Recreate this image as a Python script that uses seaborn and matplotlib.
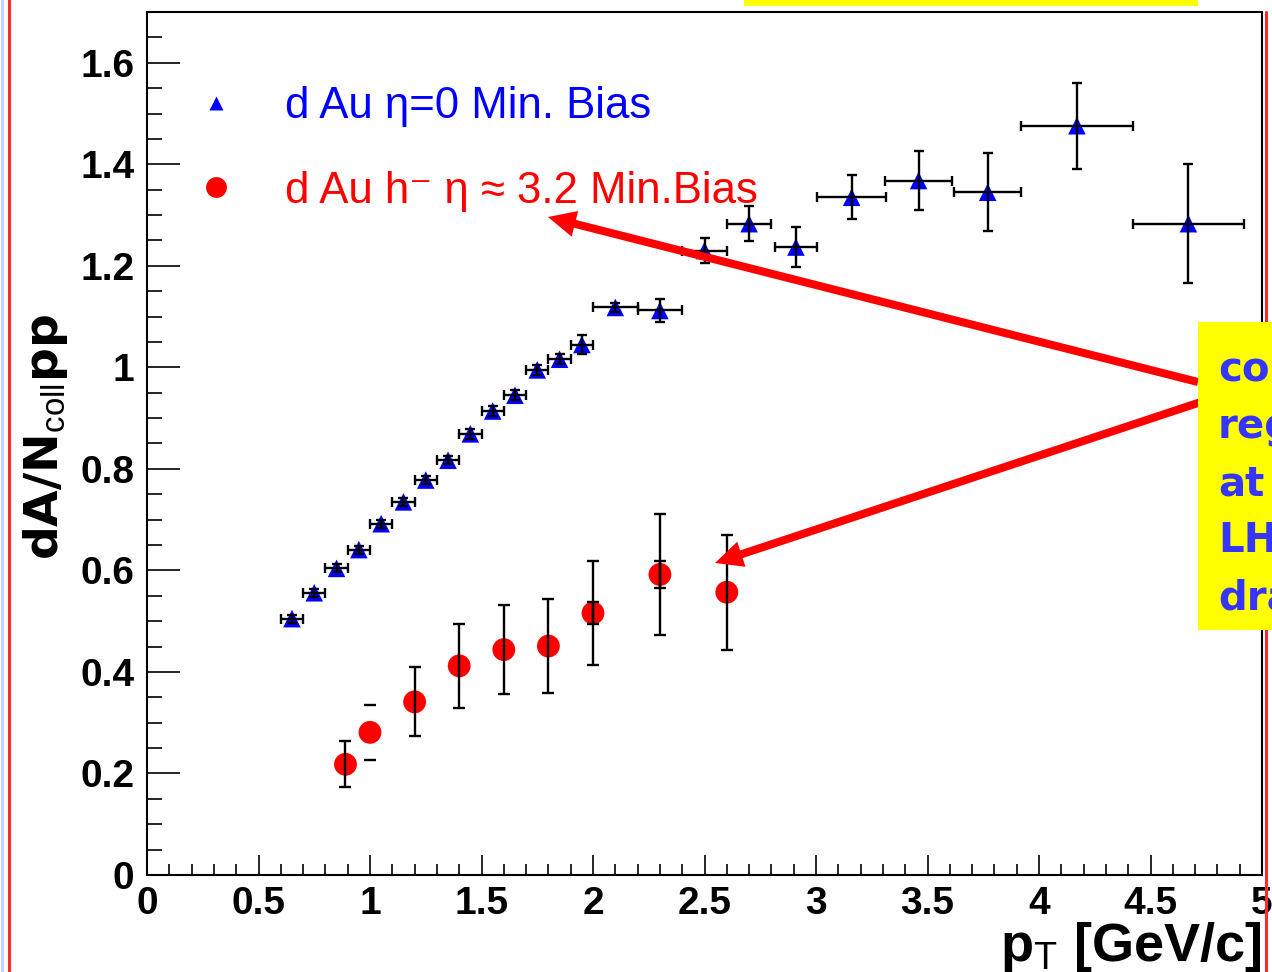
import numpy as np
import pandas as pd
import matplotlib
matplotlib.use("Agg")
import matplotlib.pyplot as plt
import seaborn as sns
from matplotlib.lines import Line2D
from matplotlib.patches import Rectangle
from matplotlib.ticker import MultipleLocator, FuncFormatter
from matplotlib.font_manager import FontProperties

# ---------------- data ----------------
blue_pt = [0.65, 0.75, 0.85, 0.95, 1.05, 1.15, 1.25, 1.35, 1.45, 1.55, 1.65, 1.75,
           1.85, 1.95, 2.10, 2.30, 2.50, 2.70, 2.91, 3.16, 3.46, 3.77, 4.17, 4.67]
blue_ratio = [0.505, 0.556, 0.604, 0.641, 0.692, 0.735, 0.778, 0.817, 0.869, 0.914,
              0.945, 0.995, 1.016, 1.045, 1.118, 1.112, 1.230, 1.283, 1.237, 1.335,
              1.368, 1.345, 1.476, 1.283]
blue_xerr = [0.05, 0.05, 0.05, 0.05, 0.05, 0.05, 0.05, 0.05, 0.05, 0.05, 0.05, 0.05,
             0.05, 0.05, 0.10, 0.10, 0.10, 0.10, 0.095, 0.155, 0.15, 0.15, 0.25, 0.25]
blue_yerr = [0.008, 0.008, 0.008, 0.008, 0.008, 0.008, 0.008, 0.008, 0.010, 0.010,
             0.010, 0.010, 0.010, 0.019, 0.008, 0.022, 0.025, 0.034, 0.040, 0.043,
             0.058, 0.077, 0.085, 0.117]

red_pt = [0.89, 1.00, 1.20, 1.40, 1.60, 1.80, 2.00, 2.30, 2.60]
red_ratio = [0.218, 0.281, 0.341, 0.412, 0.444, 0.451, 0.516, 0.592, 0.557]
red_yerr = [0.045, 0.054, 0.068, 0.083, 0.087, 0.092, 0.103, 0.119, 0.113]
red_caps_only_pt = [1.00]          # point drawn with error caps but no bar line
red_inner_pt = [2.00, 2.30]
red_inner_ratio = [0.516, 0.592]
red_inner_err = [0.022, 0.027]

legend_labels = ["d Au η=0 Min. Bias", "d Au h⁻ η ≈ 3.2 Min.Bias"]
x_ticks = [0, 0.5, 1, 1.5, 2, 2.5, 3, 3.5, 4, 4.5, 5]
y_ticks = [0, 0.2, 0.4, 0.6, 0.8, 1.0, 1.2, 1.4, 1.6]
note_lines = ["co", "reg", "at", "LH", "dra"]

# ---------------- style ----------------
sns.set_style("white")
plt.rcParams['font.family'] = ['Liberation Sans', 'DejaVu Sans']
plt.rcParams['mathtext.fontset'] = 'custom'
plt.rcParams['mathtext.rm'] = 'Liberation Sans'
plt.rcParams['mathtext.it'] = 'Liberation Sans:italic'
plt.rcParams['mathtext.bf'] = 'Liberation Sans:bold'

W, H = 1272, 972
fig = plt.figure(figsize=(W / 100, H / 100), dpi=100)
fig.patch.set_facecolor('white')
L, R, T, B = 147, 1262, 12, 875
ax = fig.add_axes([L / W, 1 - B / H, (R - L) / W, (B - T) / H])
ax.set_facecolor('white')

df_blue = pd.DataFrame({"pt": blue_pt, "ratio": blue_ratio})
df_red = pd.DataFrame({"pt": red_pt, "ratio": red_ratio})

sns.scatterplot(data=df_blue, x="pt", y="ratio", marker="^", color="#0000ff",
                s=160, edgecolor="none", ax=ax, zorder=2, legend=False)
sns.scatterplot(data=df_red, x="pt", y="ratio", marker="o", color="#ff0000",
                s=270, edgecolor="none", ax=ax, zorder=2, legend=False)

ekw = dict(fmt='none', ecolor='black', elinewidth=1.7, capthick=1.7, zorder=3)
ax.errorbar(blue_pt, blue_ratio, xerr=blue_xerr, yerr=blue_yerr, capsize=3.5, **ekw)

mask = np.isin(red_pt, red_caps_only_pt)
rp = np.array(red_pt); rr = np.array(red_ratio); re_ = np.array(red_yerr)
ax.errorbar(rp[~mask], rr[~mask], yerr=re_[~mask], capsize=4.3, **ekw)
ekw2 = dict(ekw); ekw2['elinewidth'] = 0
ax.errorbar(rp[mask], rr[mask], yerr=re_[mask], capsize=4.3, **ekw2)
ax.errorbar(red_inner_pt, red_inner_ratio, yerr=red_inner_err, capsize=4.3, **ekw)

# ---------------- axes ----------------
ax.set_xlim(0, 5)
ax.set_ylim(0, 1.7)
ax.set_xticks(x_ticks)
ax.set_yticks(y_ticks)
ax.xaxis.set_minor_locator(MultipleLocator(0.1))
ax.yaxis.set_minor_locator(MultipleLocator(0.05))
fmt = FuncFormatter(lambda v, p: f"{v:g}")
ax.xaxis.set_major_formatter(fmt)
ax.yaxis.set_major_formatter(fmt)

for sp in ax.spines.values():
    sp.set_color('black')
    sp.set_linewidth(1.5)

ax.tick_params(axis='x', which='major', direction='in', length=14.5, width=1.4,
               labelsize=28, pad=8, bottom=True, top=False)
ax.tick_params(axis='x', which='minor', direction='in', length=8, width=1.4,
               bottom=True, top=False)
ax.tick_params(axis='y', which='major', direction='in', length=24, width=1.4,
               labelsize=28, pad=9, left=True, right=False)
ax.tick_params(axis='y', which='minor', direction='in', length=11, width=1.4,
               left=True, right=False)
for lab in ax.get_xticklabels() + ax.get_yticklabels():
    lab.set_fontweight('bold')
    lab.set_color('black')

ax.set_xlabel(r"p$_{\mathrm{T}}$ [GeV/c]", fontsize=39, fontweight='bold',
              loc='right', color='black')
ax.xaxis.set_label_coords(1.0, -0.0525)
ax.set_ylabel(r"dA/N$_{\mathrm{coll}}$pp", fontsize=34, fontweight='bold', color='black',
              family=['DejaVu Sans'])
ax.yaxis.set_label_coords(-0.069, 0.507)

# ---------------- legend ----------------
fs_leg = 31.5
handles = [Line2D([], [], marker='^', ls='none', color='#0000ff', ms=9.5, mec='none'),
           Line2D([], [], marker='o', ls='none', color='#ff0000', ms=15, mec='none')]
leg = ax.legend(handles, legend_labels, loc='upper left',
                bbox_to_anchor=((181 - L) / (R - L), (B - 86) / (B - T)),
                frameon=False,
                prop=FontProperties(family=['Liberation Sans', 'DejaVu Sans'], size=fs_leg),
                handlelength=1.6, handletextpad=0.78, labelspacing=1.0,
                borderpad=0, borderaxespad=0)
for txt, c in zip(leg.get_texts(), ['#0000ff', '#ff0000']):
    txt.set_color(c)

# ---------------- annotations ----------------
fig.add_artist(Rectangle((744 / W, 1 - 6 / H), (1198 - 744) / W, 6 / H,
                         transform=fig.transFigure, facecolor='#ffff00', edgecolor='none'))
fig.add_artist(Rectangle((1198 / W, 1 - 630 / H), (W - 1198) / W, (630 - 322) / H,
                         transform=fig.transFigure, facecolor='#ffff00', edgecolor='none',
                         zorder=4))
baselines = [381, 438, 495, 552, 609]
for txt, yb in zip(note_lines, baselines):
    fig.text(1218 / W, 1 - yb / H, txt, fontsize=29, fontweight='bold',
             family=['DejaVu Sans'], color='#3535ff', va='baseline', ha='left', zorder=5)

arrow_kw = dict(width=5.8, headwidth=19, headlength=20, facecolor='#ff0000',
                edgecolor='none', shrink=0)
ax.annotate('', xy=(548, H - 217), xycoords='figure pixels',
            xytext=(1198, H - 382), textcoords='figure pixels', arrowprops=arrow_kw,
            zorder=6)
ax.annotate('', xy=(715, H - 563), xycoords='figure pixels',
            xytext=(1213, H - 398), textcoords='figure pixels', arrowprops=arrow_kw,
            zorder=6)

# frame lines at the picture edges
fig.add_artist(Line2D([1.5 / W, 1.5 / W], [0, 1], transform=fig.transFigure,
                      color='#c8d4ff', lw=2.2))
fig.add_artist(Line2D([8.5 / W, 8.5 / W], [0, 1], transform=fig.transFigure,
                      color='#ff2a2a', lw=2.2))
fig.add_artist(Line2D([1265.5 / W, 1265.5 / W], [0, 1 - 12 / H], transform=fig.transFigure,
                      color='#ff2a2a', lw=2.2))

fig.savefig("out.png", dpi=100, facecolor='white')
